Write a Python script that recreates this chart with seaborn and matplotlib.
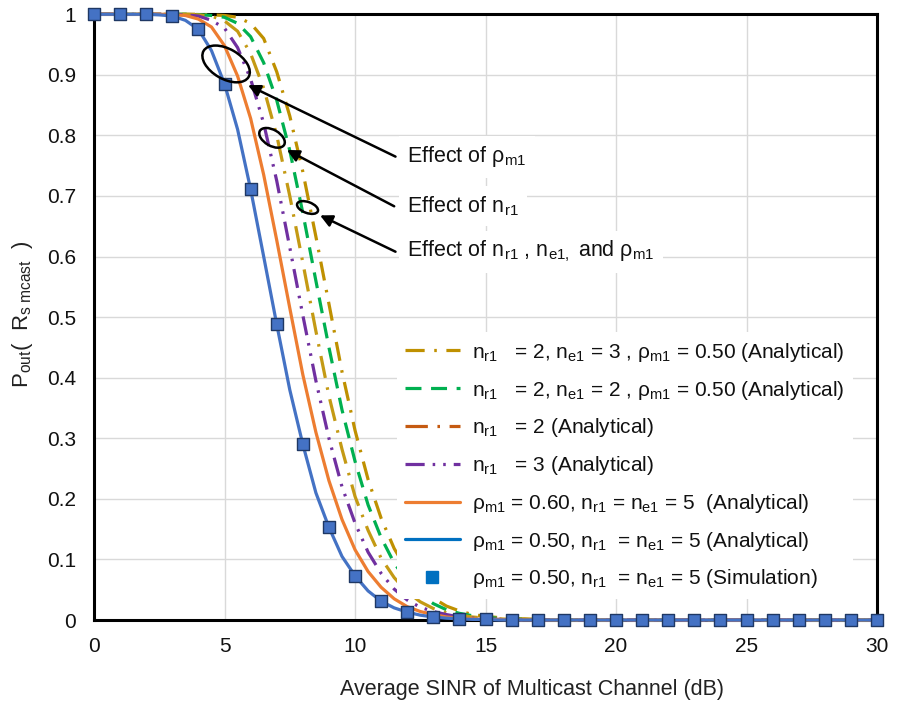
import matplotlib
matplotlib.use("Agg")
import matplotlib.pyplot as plt
import matplotlib.transforms as mtransforms
from matplotlib.patches import Ellipse
from matplotlib.lines import Line2D
import seaborn as sns
import pandas as pd

sns.set_style("white")
plt.rcParams['font.family'] = ['Liberation Sans', 'DejaVu Sans']
plt.rcParams['mathtext.fontset'] = 'custom'
plt.rcParams['mathtext.rm'] = 'Liberation Sans'
plt.rcParams['mathtext.it'] = 'Liberation Sans'
plt.rcParams['mathtext.default'] = 'regular'

# SINR grid of the analytical curves (dB)
sinr = [0, 1, 2, 2.5, 3, 3.5, 4, 4.5, 5, 5.5, 6, 6.5, 7, 7.5, 8, 8.5, 9, 9.5, 10,
        10.5, 11, 11.5, 12, 12.5, 13, 13.5, 14, 14.5, 15, 15.5, 16, 16.5, 17,
        18, 20, 25, 30]

p_ne3 = [1, 1, 1, 1, 1, 1, 1, 0.999, 0.998, 0.995, 0.985, 0.96, 0.905, 0.832, 0.74,
         0.633, 0.522, 0.41, 0.313, 0.232, 0.168, 0.118, 0.082, 0.055, 0.036, 0.023,
         0.015, 0.009, 0.006, 0.004, 0.002, 0.002, 0.001, 0, 0, 0, 0]
p_ne2 = [1, 1, 1, 1, 1, 1, 0.9995, 0.998, 0.995, 0.985, 0.963, 0.92, 0.858, 0.775,
         0.672, 0.56, 0.45, 0.347, 0.262, 0.19, 0.136, 0.094, 0.064, 0.042, 0.027,
         0.017, 0.011, 0.007, 0.004, 0.003, 0.002, 0.001, 0.001, 0, 0, 0, 0]
p_nr2 = [1, 1, 1, 1, 1, 1, 0.999, 0.997, 0.989, 0.972, 0.935, 0.878, 0.80, 0.70,
         0.59, 0.477, 0.37, 0.282, 0.204, 0.148, 0.102, 0.07, 0.046, 0.03, 0.019,
         0.012, 0.008, 0.005, 0.003, 0.002, 0.001, 0.001, 0, 0, 0, 0, 0]
p_nr3 = [1, 1, 1, 1, 1, 0.999, 0.997, 0.99, 0.977, 0.945, 0.893, 0.82, 0.725, 0.615,
         0.503, 0.395, 0.30, 0.22, 0.16, 0.112, 0.077, 0.051, 0.033, 0.021, 0.014,
         0.009, 0.005, 0.003, 0.002, 0.001, 0.001, 0, 0, 0, 0, 0, 0]
p_rho60 = [1, 1, 1, 1, 0.9995, 0.998, 0.992, 0.979, 0.948, 0.898, 0.828, 0.735, 0.627,
           0.515, 0.405, 0.31, 0.23, 0.166, 0.116, 0.08, 0.054, 0.035, 0.022, 0.014,
           0.009, 0.005, 0.003, 0.002, 0.001, 0.001, 0, 0, 0, 0, 0, 0, 0]
p_rho50 = [1, 1, 1, 0.999, 0.997, 0.99, 0.975, 0.94, 0.885, 0.81, 0.711, 0.60, 0.488,
           0.38, 0.29, 0.21, 0.153, 0.105, 0.073, 0.048, 0.031, 0.02, 0.013, 0.008,
           0.005, 0.003, 0.002, 0.001, 0.001, 0, 0, 0, 0, 0, 0, 0, 0]

# simulation points
sim_x = list(range(0, 31))
sim_y = [1, 1, 1, 0.997, 0.975, 0.885, 0.711, 0.488, 0.29, 0.153, 0.073, 0.031,
         0.013, 0.005, 0.002, 0.001, 0, 0, 0, 0, 0, 0, 0, 0, 0, 0, 0, 0, 0, 0, 0]

labels = [
    r'$n_{r1}$   = 2, $n_{e1}$ = 3 , $\rho_{m1}$ = 0.50 (Analytical)',
    r'$n_{r1}$   = 2, $n_{e1}$ = 2 , $\rho_{m1}$ = 0.50 (Analytical)',
    r'$n_{r1}$   = 2 (Analytical)',
    r'$n_{r1}$   = 3 (Analytical)',
    r'$\rho_{m1}$ = 0.60, $n_{r1}$ = $n_{e1}$ = 5  (Analytical)',
    r'$\rho_{m1}$ = 0.50, $n_{r1}$  = $n_{e1}$ = 5 (Analytical)',
    r'$\rho_{m1}$ = 0.50, $n_{r1}$  = $n_{e1}$ = 5 (Simulation)',
]

fig = plt.figure(figsize=(8.98, 7.06), dpi=100)
ax = fig.add_axes([0.1047, 0.1218, 0.872, 0.858])

# curves (drawn back to front)
curves = [
    (p_ne3, '#BF9000', (0, (6, 3, 0.8, 3)), '#BF9000'),
    (p_ne2, '#00B050', (0, (5, 3)), '#00B050'),
    (p_nr2, '#C49A14', (0, (7, 3, 0.8, 3)), '#C55A11'),
    (p_nr3, '#7030A0', (0, (6, 2.5, 0.8, 2.5, 0.8, 2.5)), '#7030A0'),
    (p_rho60, '#ED7D31', '-', '#ED7D31'),
    (p_rho50, '#4472C4', '-', '#0070C0'),
]
handles = []
for (vals, col, ls, lcol) in curves:
    df = pd.DataFrame({'x': sinr, 'y': vals})
    sns.lineplot(data=df, x='x', y='y', ax=ax, color=col, linestyle=ls,
                 linewidth=2.3, clip_on=False, zorder=3)
    handles.append(Line2D([], [], color=lcol, linestyle=ls, linewidth=2.3))

sim_df = pd.DataFrame({'x': sim_x, 'y': sim_y})
sns.scatterplot(data=sim_df, x='x', y='y', ax=ax, marker='s', s=70,
                color='#4472C4', edgecolor='#1F3864', linewidth=1.0,
                clip_on=False, zorder=5)
handles.append(Line2D([], [], marker='s', linestyle='none', markersize=8.5,
                      markerfacecolor='#0070C0', markeredgecolor='#0070C0'))

ax.set_xlim(0, 30)
ax.set_ylim(0, 1)
ax.set_xticks([0, 5, 10, 15, 20, 25, 30])
ax.set_xticklabels(['0', '5', '10', '15', '20', '25', '30'])
yt = [0, 0.1, 0.2, 0.3, 0.4, 0.5, 0.6, 0.7, 0.8, 0.9, 1]
ax.set_yticks(yt)
ax.set_yticklabels(['0', '0.1', '0.2', '0.3', '0.4', '0.5', '0.6', '0.7', '0.8',
                    '0.9', '1'])
ax.tick_params(axis='both', length=0, labelsize=15, colors='#111111')
ax.tick_params(axis='y', pad=13)
ax.tick_params(axis='x', pad=12)
ax.grid(True, color='#D9D9D9', linewidth=1.0)
ax.set_axisbelow(True)
for sp in ax.spines.values():
    sp.set_visible(True)
    sp.set_color('black')
    sp.set_linewidth(2.2)

ax.set_xlabel('Average SINR of Multicast Channel (dB)', fontsize=15.5,
              color='#222222')
ax.xaxis.set_label_coords(0.559, -0.097)
ax.set_ylabel(r'$P_{out}$(  $R_{s\ mcast}$  )', fontsize=16, color='#222222')
ax.yaxis.set_label_coords(-0.075, 0.505)

# ellipses marking the curve groups
for (cx, cy, w, h, ang) in [(5.06, 0.918, 0.52, 0.30, -30),
                            (6.82, 0.796, 0.28, 0.16, -30),
                            (8.18, 0.681, 0.22, 0.11, -20)]:
    tr = fig.dpi_scale_trans + mtransforms.ScaledTranslation(cx, cy, ax.transData)
    ax.add_patch(Ellipse((0, 0), w, h, angle=ang, transform=tr, fill=False,
                         edgecolor='black', linewidth=1.8, zorder=6))

# annotations
notes = [
    (r'Effect of $\rho_{m1}$', (5.90, 0.883), (11.55, 0.765), 0.765),
    (r'Effect of $n_{r1}$', (7.39, 0.776), (11.50, 0.683), 0.683),
    (r'Effect of $n_{r1}$ , $n_{e1,}$ and $\rho_{m1}$', (8.66, 0.668), (11.55, 0.608), 0.608),
]
for (txt, tip, tail, ty) in notes:
    ax.annotate('', xy=tip, xytext=tail,
                arrowprops=dict(arrowstyle='-|>', color='black', lw=1.8,
                                mutation_scale=18, shrinkA=0, shrinkB=0),
                zorder=6)
    ax.text(12.0, ty, txt, fontsize=15.5, va='center', ha='left', color='#111111',
            bbox=dict(facecolor='white', edgecolor='none', pad=6), zorder=4)

leg = ax.legend(handles, labels, loc='upper left', bbox_to_anchor=(0.373, 0.492),
                fontsize=15, frameon=True, framealpha=1, facecolor='white',
                edgecolor='none', handlelength=2.65, handletextpad=0.58,
                labelspacing=0.71, borderpad=0.4)
leg.set_zorder(4)
for t in leg.get_texts():
    t.set_color('#111111')

fig.savefig('out.png', dpi=100)
